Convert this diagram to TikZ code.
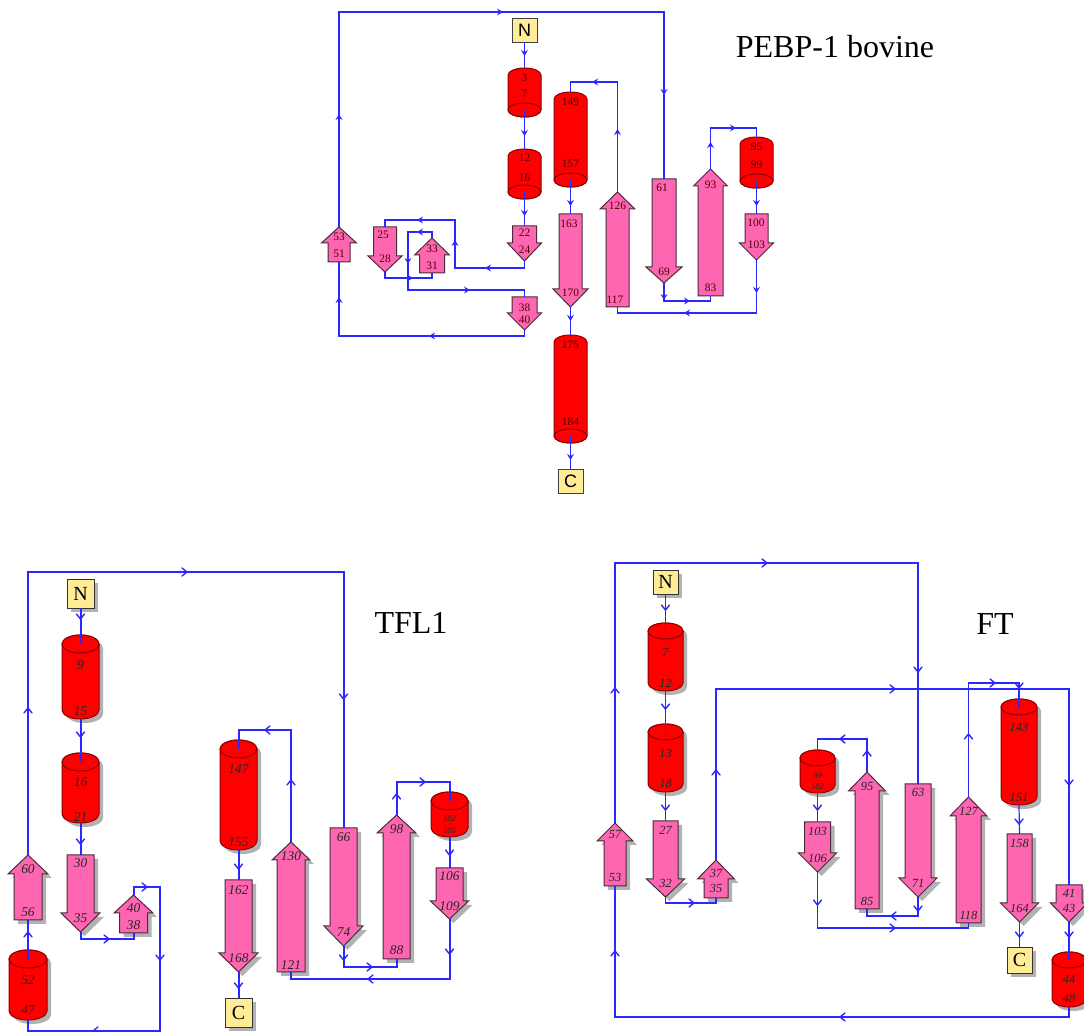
\documentclass[tikz,border=0pt]{standalone}
\usepackage{fontspec}
\setmainfont{Liberation Serif}
\newfontfamily\arialf{Liberation Sans}
\usetikzlibrary{shadows}
\definecolor{lineblue}{RGB}{40,40,255}
\definecolor{hred}{RGB}{255,0,0}
\definecolor{hredd}{RGB}{140,0,0}
\definecolor{spink}{RGB}{255,102,178}
\definecolor{sline}{RGB}{70,45,60}
\definecolor{nfill}{RGB}{255,236,150}
\definecolor{shad}{RGB}{178,178,178}
\definecolor{ptext}{RGB}{80,0,0}
\tikzset{
 strandst/.style={fill=spink, draw=sline, line width=0.5pt},
 helixst/.style={fill=hred, draw=hredd, line width=0.5pt},
 connP/.style={draw=lineblue, line width=0.7pt},
 connT/.style={draw=lineblue, line width=1pt},
 connF/.style={draw=lineblue, line width=0.6pt},
 chev/.style={draw=lineblue, line width=0.7pt, line join=round, line cap=round},
 termP/.style={draw=black!75, fill=nfill, inner sep=0, minimum width=12.5pt, minimum height=12pt, font=\arialf\fontsize{9}{10}\selectfont},
 termS/.style={draw=black!80, fill=nfill, inner sep=0, minimum width=13.5pt, minimum height=14.5pt, font=\fontsize{10}{10}\selectfont, drop shadow={shadow xshift=2pt,shadow yshift=-2pt,fill=shad,opacity=1}},
 lP/.style={inner sep=0, text=ptext, font=\fontsize{5.7}{6}\selectfont},
 lT/.style={inner sep=0, text=black!85, font=\itshape\fontsize{6.7}{7}\selectfont},
 lF/.style={inner sep=0, text=black!85, font=\itshape\fontsize{6.2}{7}\selectfont},
 lsm/.style={inner sep=0, text=black!85, font=\itshape\fontsize{4.3}{5}\selectfont},
 ttl/.style={inner sep=0, font=\fontsize{16}{18}\selectfont},
 pdn/.pic={\fill[lineblue] (-3.5,-3) -- (0,3) -- (3.5,-3) -- (0,-1) -- cycle;},
 pup/.pic={\fill[lineblue] (-3.5,3) -- (0,-3) -- (3.5,3) -- (0,1) -- cycle;},
 prt/.pic={\fill[lineblue] (-3,-3.5) -- (3,0) -- (-3,3.5) -- (-1,0) -- cycle;},
 plt/.pic={\fill[lineblue] (3,-3.5) -- (-3,0) -- (3,3.5) -- (1,0) -- cycle;},
 cdn/.pic={\draw[chev] (-4,-3) -- (0,2) -- (4,-3);},
 cup/.pic={\draw[chev] (-4,3) -- (0,-2) -- (4,3);},
 crt/.pic={\draw[chev] (-3,-4) -- (2,0) -- (-3,4);},
 clt/.pic={\draw[chev] (3,-4) -- (-2,0) -- (3,4);},
}
% strand: name, cx, base, shoulder, tip, body half width, head half width
\newcommand\strandP[7]{%
 \draw[strandst] ({#2-#6},#3) -- ({#2+#6},#3) -- ({#2+#6},#4) -- ({#2+#7},#4) -- (#2,#5) -- ({#2-#7},#4) -- ({#2-#6},#4) -- cycle;
 \coordinate (#1-b) at (#2,#3);
 \coordinate (#1-t) at (#2,#5);}
\newcommand\strandS[7]{%
 \fill[shad, shift={(4,4)}] ({#2-#6},#3) -- ({#2+#6},#3) -- ({#2+#6},#4) -- ({#2+#7},#4) -- (#2,#5) -- ({#2-#7},#4) -- ({#2-#6},#4) -- cycle;
 \strandP{#1}{#2}{#3}{#4}{#5}{#6}{#7}}
% helix: name, cx, top, bottom, r, e
\newcommand\helixP[6]{%
 \draw[helixst] ({#2-#5},{#3+#6}) arc[start angle=180,end angle=360,x radius=#5,y radius=#6] -- ({#2+#5},{#4-#6}) arc[start angle=0,end angle=180,x radius=#5,y radius=#6] -- cycle;
 \draw[helixst] (#2,{#4-#6}) ellipse[x radius=#5,y radius=#6];
 \coordinate (#1-top) at (#2,#3);
 \coordinate (#1-bot) at (#2,{#4-#6});}
\newcommand\helixS[6]{%
 \fill[shad, shift={(4,4)}] ({#2-#5},{#3+#6}) arc[start angle=180,end angle=360,x radius=#5,y radius=#6] -- ({#2+#5},{#4-#6}) arc[start angle=0,end angle=180,x radius=#5,y radius=#6] -- cycle;
 \draw[helixst] ({#2-#5},{#3+#6}) arc[start angle=180,end angle=360,x radius=#5,y radius=#6] -- ({#2+#5},{#4-#6}) arc[start angle=0,end angle=180,x radius=#5,y radius=#6] -- cycle;
 \draw[helixst] (#2,{#3+#6}) ellipse[x radius=#5,y radius=#6];
 \coordinate (#1-top) at (#2,{#3+#6});
 \coordinate (#1-bot) at (#2,#4);}
\newcommand\lb[5]{\node[#1] (#2) at (#3,#4) {#5};}
\begin{document}
\begin{tikzpicture}[x=0.5pt,y=-0.5pt]
\useasboundingbox (0,0) rectangle (1084,1032);
\clip (0,0) rectangle (1084,1032);
\fill[white] (0,0) rectangle (1084,1032);

%================ PEBP-1 bovine ================
\helixP{p37}{524.5}{68}{117}{16.5}{7}
\helixP{p12}{524.5}{149}{199}{16.5}{7}
\helixP{p149}{570.5}{92}{187}{16.5}{7}
\helixP{p95}{756.5}{137}{188}{16.5}{7}
\helixP{p175}{570.5}{335}{443}{16.5}{7}
\strandP{p22}{524.5}{226}{243}{261}{12}{17}
\strandP{p25}{385}{227}{256}{272}{11.5}{17}
\strandP{p33}{432}{273}{255}{238}{12.5}{17.5}
\strandP{p38}{524.5}{297}{313}{330}{12.5}{17}
\strandP{p53}{339}{262}{243}{227}{11}{17.5}
\strandP{p163}{570.5}{214}{289}{307}{11.5}{17.5}
\strandP{p117}{617.5}{307}{209}{192}{11.5}{17.5}
\strandP{p61}{664}{179}{267}{283}{12}{18}
\strandP{p83}{710.5}{296}{186}{169}{12.5}{17}
\strandP{p100}{756.5}{214}{243}{260}{11.5}{17}
\node[termP] (pN) at (524.5,30) {N};
\node[termP] (pC) at (570.5,481) {C};

\draw[connP] (pN) -- (p37-top);
\draw[connP] (p37-bot) -- (p12-top);
\draw[connP] (p12-bot) -- (p22-b);
\draw[connP] (p22-t) -- (524.5,268) -- (455,268) -- (455,220) -- (385,220) -- (p25-b);
\draw[connP] (p25-t) -- (385,278) -- (432,278) -- (p33-b);
\draw[connP] (p33-t) -- (432,232) -- (408,232) -- (408,290) -- (524.5,290) -- (p38-b);
\draw[connP] (p38-t) -- (524.5,336) -- (339,336) -- (p53-b);
\draw[connP] (p53-t) -- (339,12) -- (664,12) -- (p61-b);
\draw[connP] (p61-t) -- (664,301) -- (710.5,301) -- (p83-b);
\draw[connP] (p83-t) -- (710.5,128) -- (756.5,128) -- (p95-top);
\draw[connP] (p95-bot) -- (p100-b);
\draw[connP] (p100-t) -- (756.5,313) -- (617.5,313) -- (p117-b);
\draw[connP] (p117-t) -- (617.5,82) -- (570.5,82) -- (p149-top);
\draw[connP] (p149-bot) -- (p163-b);
\draw[connP] (p163-t) -- (p175-top);
\draw[connP] (p175-bot) -- (pC);

\pic at (524.5,53) {pdn}; \pic at (524.5,133) {pdn}; \pic at (524.5,213) {pdn};
\pic at (488,268) {plt}; \pic at (455,243) {pup}; \pic at (420,220) {plt};
\pic at (410,278) {prt}; \pic at (420,232) {plt}; \pic at (408,261) {pdn};
\pic at (467,290) {prt}; \pic at (432,336) {plt}; \pic at (339,300) {pup};
\pic at (339,117) {pup}; \pic at (500,12) {prt}; \pic at (664,92) {pdn};
\pic at (664,297) {pdn}; \pic at (687,301) {prt}; \pic at (710.5,145) {pup};
\pic at (733,128) {prt}; \pic at (756.5,203) {pdn}; \pic at (756.5,290) {pdn};
\pic at (687,313) {plt}; \pic at (617.5,132) {pup}; \pic at (595,82) {plt};
\pic at (570.5,203) {pdn}; \pic at (570.5,318) {pdn}; \pic at (570.5,457) {pdn};

\lb{lP}{pl3}{524.5}{78}{3} \lb{lP}{pl7}{524.5}{94}{7}
\lb{lP}{pl12}{524.5}{158}{12} \lb{lP}{pl16}{524.5}{178}{16}
\lb{lP}{pl149}{570.5}{102}{149} \lb{lP}{pl157}{570.5}{164}{157}
\lb{lP}{pl95}{756.5}{147}{95} \lb{lP}{pl99}{756.5}{165}{99}
\lb{lP}{pl175}{570.5}{345}{175} \lb{lP}{pl184}{570.5}{422}{184}
\lb{lP}{pl22}{524.5}{233}{22} \lb{lP}{pl24}{524.5}{250}{24}
\lb{lP}{pl25}{383}{235}{25} \lb{lP}{pl28}{385}{259}{28}
\lb{lP}{pl33}{432}{249}{33} \lb{lP}{pl31}{432}{266}{31}
\lb{lP}{pl38}{524.5}{308}{38} \lb{lP}{pl40}{524.5}{320}{40}
\lb{lP}{pl53}{339}{237}{53} \lb{lP}{pl51}{339}{254}{51}
\lb{lP}{pl163}{569}{224}{163} \lb{lP}{pl170}{570.5}{293}{170}
\lb{lP}{pl126}{617.5}{206}{126} \lb{lP}{pl117}{615}{300}{117}
\lb{lP}{pl61}{662}{188}{61} \lb{lP}{pl69}{664}{272}{69}
\lb{lP}{pl93}{710.5}{185}{93} \lb{lP}{pl83}{710.5}{288}{83}
\lb{lP}{pl100}{756}{223}{100} \lb{lP}{pl103}{756.5}{245}{103}
\node[ttl] (ptitle) at (835,47) {PEBP-1 bovine};

%================ TFL1 ================
\helixS{t9}{80.5}{635}{719}{18.5}{9}
\helixS{t16}{80.5}{753}{823}{18.5}{9}
\helixS{t52}{28}{950}{1020}{19}{9}
\helixS{t147}{238.5}{740}{850}{18.5}{9}
\helixS{t102}{449.5}{792}{837}{18.5}{9}
\strandS{t30}{80.5}{855}{913}{932}{13.5}{19.5}
\strandS{t40}{133.5}{933}{913}{895}{14}{19.5}
\strandS{t60}{28}{920}{874}{855}{14}{20}
\strandS{t162}{238.5}{880}{953}{972}{13.5}{19.5}
\strandS{t121}{291}{972}{860}{842}{14}{19}
\strandS{t66}{343.5}{828}{926}{946}{13.5}{19.5}
\strandS{t88}{396.5}{959}{833}{815}{13.5}{19.5}
\strandS{t106}{449.5}{868}{901}{919}{13.5}{19}
\node[termS] (tN) at (80.5,593.5) {N};
\node[termS] (tC) at (238.5,1013) {C};

\draw[connT] (tN) -- (t9-top);
\draw[connT] (t9-bot) -- (t16-top);
\draw[connT] (t16-bot) -- (t30-b);
\draw[connT] (t30-t) -- (80.5,939) -- (133.5,939) -- (t40-b);
\draw[connT] (t40-t) -- (133.5,887) -- (160,887) -- (160,1031) -- (28,1031) -- (t52-bot);
\draw[connT] (t52-top) -- (t60-b);
\draw[connT] (t60-t) -- (28,572) -- (343.5,572) -- (t66-b);
\draw[connT] (t66-t) -- (343.5,967) -- (396.5,967) -- (t88-b);
\draw[connT] (t88-t) -- (396.5,782) -- (449.5,782) -- (t102-top);
\draw[connT] (t102-bot) -- (t106-b);
\draw[connT] (t106-t) -- (449.5,979) -- (291,979) -- (t121-b);
\draw[connT] (t121-t) -- (291,730) -- (238.5,730) -- (t147-top);
\draw[connT] (t147-bot) -- (t162-b);
\draw[connT] (t162-t) -- (tC);

\pic at (80.5,617) {cdn}; \pic at (80.5,735) {cdn}; \pic at (80.5,842) {cdn};
\pic at (107,939) {crt}; \pic at (145,887) {crt}; \pic at (160,958) {cdn};
\pic at (95,1031) {clt}; \pic at (28,934) {cup}; \pic at (28,710) {cup};
\pic at (185,572) {crt}; \pic at (343.5,697) {cdn}; \pic at (343.5,958) {cdn};
\pic at (370,967) {crt}; \pic at (396.5,796) {cup}; \pic at (423,782) {crt};
\pic at (449.5,853) {cdn}; \pic at (449.5,952) {cdn}; \pic at (370,979) {clt};
\pic at (291,782) {cup}; \pic at (267,730) {clt}; \pic at (238.5,867) {cdn};
\pic at (238.5,986) {cdn};

\lb{lT}{tl9}{80.5}{665}{9} \lb{lT}{tl15}{80.5}{711}{15}
\lb{lT}{tl16}{80.5}{782}{16} \lb{lT}{tl21}{80.5}{817}{21}
\lb{lT}{tl52}{28}{980}{52} \lb{lT}{tl47}{28}{1010}{47}
\lb{lT}{tl147}{238.5}{769}{147} \lb{lT}{tl155}{238.5}{842}{155}
\lb{lsm}{tl102}{449.5}{819}{102} \lb{lsm}{tl105}{449.5}{831}{105}
\lb{lT}{tl30}{80.5}{863}{30} \lb{lT}{tl35}{80.5}{918}{35}
\lb{lT}{tl40}{133.5}{908}{40} \lb{lT}{tl38}{133.5}{925}{38}
\lb{lT}{tl60}{28}{869}{60} \lb{lT}{tl56}{28}{912}{56}
\lb{lT}{tl162}{238.5}{890}{162} \lb{lT}{tl168}{238.5}{958}{168}
\lb{lT}{tl130}{291}{856}{130} \lb{lT}{tl121}{291}{965}{121}
\lb{lT}{tl66}{343.5}{837}{66} \lb{lT}{tl74}{343.5}{932}{74}
\lb{lT}{tl98}{396.5}{829}{98} \lb{lT}{tl88}{396.5}{950}{88}
\lb{lT}{tl106}{449.5}{876}{106} \lb{lT}{tl109}{449.5}{906}{109}
\node[ttl] (ttitle) at (411,623) {TFL1};

%================ FT ================
\helixS{f7}{665.5}{623}{691}{17.5}{8}
\helixS{f13}{665.5}{724}{792}{17.5}{8}
\helixS{f99}{817.5}{750}{793}{17.5}{8}
\helixS{f143}{1019}{699}{805}{18}{8}
\helixS{f44}{1069}{952}{1007}{17}{8}
\strandS{f27}{665.5}{821}{879}{897}{12.5}{19}
\strandS{f37}{716}{898}{879}{860}{12}{18.5}
\strandS{f57}{615}{886}{841}{823}{11}{18}
\strandS{f63}{918}{784}{878}{897}{13}{19}
\strandS{f85}{867}{909}{791}{772}{12}{18.5}
\strandS{f103}{817.5}{822}{853}{872}{13}{19}
\strandS{f118}{968.5}{923}{816}{797}{12.5}{18.5}
\strandS{f158}{1019.5}{834}{903}{922}{12.5}{19}
\strandS{f41}{1069}{885}{903}{922}{13}{18.5}
\node[termS, minimum width=12.5pt, minimum height=12pt] (fN) at (665.5,582) {N};
\node[termS, minimum width=12.5pt, minimum height=13pt] (fC) at (1019.5,960) {C};

\draw[connF] (fN) -- (f7-top);
\draw[connF] (f7-bot) -- (f13-top);
\draw[connF] (f13-bot) -- (f27-b);
\draw[connF] (f27-t) -- (665.5,903) -- (716,903) -- (f37-b);
\draw[connF] (f37-t) -- (716,689) -- (1069,689) -- (f41-b);
\draw[connF] (f41-t) -- (f44-top);
\draw[connF] (f44-bot) -- (1069,1017) -- (615,1017) -- (f57-b);
\draw[connF] (f57-t) -- (615,563) -- (918,563) -- (f63-b);
\draw[connF] (f63-t) -- (918,916) -- (867,916) -- (f85-b);
\draw[connF] (f85-t) -- (867,739) -- (817.5,739) -- (f99-top);
\draw[connF] (f99-bot) -- (f103-b);
\draw[connF] (f103-t) -- (817.5,928) -- (968.5,928) -- (f118-b);
\draw[connF] (f118-t) -- (968.5,683) -- (1019,683) -- (f143-top);
\draw[connF] (f143-bot) -- (f158-b);
\draw[connF] (f158-t) -- (fC);

\pic at (665.5,608) {cdn}; \pic at (665.5,707) {cdn}; \pic at (665.5,808) {cdn};
\pic at (692,903) {crt}; \pic at (716,772) {cup}; \pic at (893,689) {crt};
\pic at (1069,783) {cdn}; \pic at (1069,935) {cdn}; \pic at (842,1017) {clt};
\pic at (615,953) {cup}; \pic at (615,690) {cup}; \pic at (765,563) {crt};
\pic at (918,670) {cdn}; \pic at (918,909) {cdn}; \pic at (893,916) {clt};
\pic at (867,753) {cup}; \pic at (842,739) {clt}; \pic at (817.5,808) {cdn};
\pic at (817.5,903) {cdn}; \pic at (893,928) {crt}; \pic at (968.5,736) {cup};
\pic at (993,683) {crt}; \pic at (1019,686) {cdn}; \pic at (1019,822) {cdn};
\pic at (1019.5,935) {cdn};

\lb{lF}{fl7}{665.5}{652}{7} \lb{lF}{fl12}{665.5}{683}{12}
\lb{lF}{fl13}{665.5}{753}{13} \lb{lF}{fl18}{665.5}{783}{18}
\lb{lsm}{fl99}{817.5}{776}{99} \lb{lsm}{fl102}{817.5}{787}{102}
\lb{lF}{fl143}{1019}{727}{143} \lb{lF}{fl151}{1019}{797}{151}
\lb{lF}{fl44}{1069}{979}{44} \lb{lF}{fl48}{1069}{998}{48}
\lb{lF}{fl27}{665.5}{830}{27} \lb{lF}{fl32}{665.5}{883}{32}
\lb{lF}{fl37}{716}{873}{37} \lb{lF}{fl35}{716}{888}{35}
\lb{lF}{fl57}{615}{835}{57} \lb{lF}{fl53}{615}{877}{53}
\lb{lF}{fl63}{918}{792}{63} \lb{lF}{fl71}{918}{883}{71}
\lb{lF}{fl95}{867}{786}{95} \lb{lF}{fl85}{867}{901}{85}
\lb{lF}{fl103}{817.5}{831}{103} \lb{lF}{fl106}{817.5}{858}{106}
\lb{lF}{fl127}{968.5}{811}{127} \lb{lF}{fl118}{968.5}{915}{118}
\lb{lF}{fl158}{1019.5}{843}{158} \lb{lF}{fl164}{1019.5}{908}{164}
\lb{lF}{fl41}{1069}{893}{41} \lb{lF}{fl43}{1069}{908}{43}
\node[ttl] (ftitle) at (995,624) {FT};
\end{tikzpicture}
\end{document}
